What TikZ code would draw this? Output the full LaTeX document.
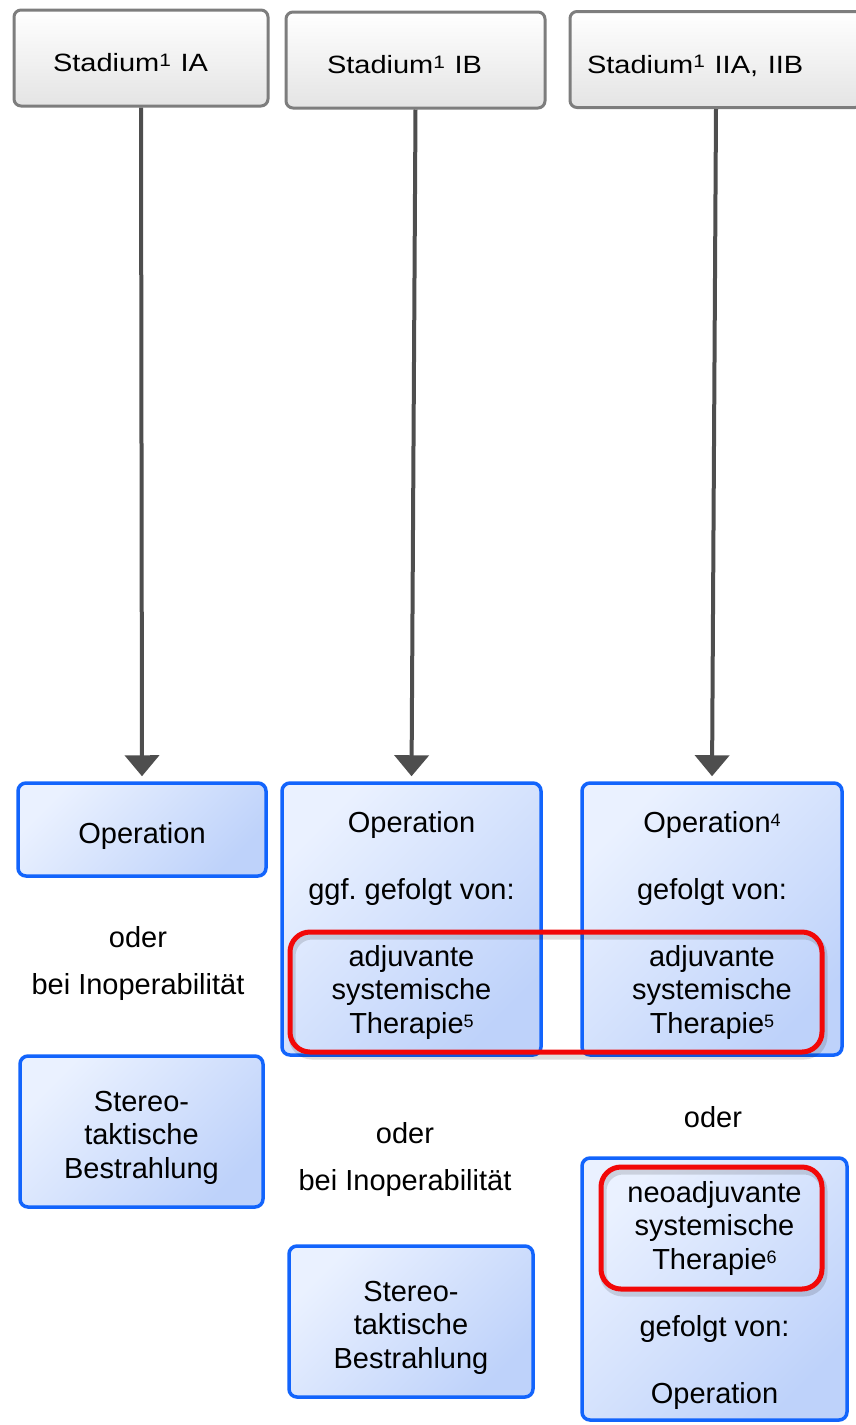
\documentclass[tikz,border=0pt]{standalone}
\usepackage{fontspec}
\setmainfont{Liberation Sans}
\usepackage{graphicx}
\usepackage{tikz}
\usetikzlibrary{arrows.meta}
\usepackage{xcolor}
\definecolor{headline}{RGB}{125,125,125}
\definecolor{headfill}{RGB}{228,228,228}
\definecolor{arrowgray}{RGB}{78,78,78}
\definecolor{boxline}{RGB}{18,100,252}
\definecolor{boxlight}{RGB}{234,241,255}
\definecolor{boxdark}{RGB}{190,210,250}
\definecolor{markred}{RGB}{242,8,8}
\newcommand{\boxfont}{\fontsize{29}{33.5}\selectfont}
\newcommand{\headfont}{\fontsize{25}{30}\selectfont}
\newcommand{\hochzahl}[1]{\raisebox{5.5pt}{\fontsize{18}{18}\selectfont #1}}
\newcommand{\kopf}[1]{\scalebox{1.16}[1]{#1}}
\frenchspacing

\begin{document}
\begin{tikzpicture}[x=1pt, y=-1pt,
  stadium/.style={draw=headline, line width=3pt, rounded corners=7pt,
    top color=white, bottom color=headfill, font=\headfont,
    align=left, minimum height=96pt, inner ysep=0pt,
    text height=27pt, text depth=0pt},
  therapy/.style={draw=boxline, line width=3.5pt, rounded corners=8pt,
    top color=boxlight, bottom color=boxdark, shading angle=45,
    inner sep=0pt},
  boxtext/.style={font=\boxfont, align=center, yshift=-6pt},
  note/.style={font=\boxfont, align=center},
  hilite/.style={draw=markred, line width=5pt, rounded corners=20pt, inner sep=0pt},
  hiliteshade/.style={draw=black, opacity=0.13, line width=7pt, rounded corners=20pt, inner sep=0pt},
  flow/.style={draw=arrowgray, line width=4pt, -{Triangle[width=34pt,length=21pt]}, shorten >=5pt}]
  \useasboundingbox (0,0) rectangle (855,1425);
  % stage headers
  \node[stadium, inner xsep=39pt, text width=176pt] (ia) at (141,58) {\kopf{Stadium\hochzahl{1} IA}};
  \node[stadium, inner xsep=41pt, text width=177pt] (ib) at (415.5,60) {\kopf{Stadium\hochzahl{1} IB}};
  \node[stadium, inner xsep=17pt, text width=258pt] (iib) at (716,59.5) {\kopf{Stadium\hochzahl{1} IIA, IIB}};
  % left column
  \node[therapy, minimum width=248pt, minimum height=93pt,
    label={[boxtext]center:Operation}] (opA) at (142,829.5) {};
  \node[note] (oderA) at (138,937) {oder};
  \node[note] (inopA) at (138,987) {bei Inoperabilität};
  \node[therapy, minimum width=243pt, minimum height=151pt,
    label={[boxtext]center:{Stereo-\\taktische\\Bestrahlung}}] (sbrtA) at (141.5,1131.5) {};
  % middle column
  \node[therapy, minimum width=259pt, minimum height=272pt,
    label={[boxtext]center:{Operation\\[33.5pt]ggf. gefolgt von:\\[33.5pt]adjuvante\\systemische\\Therapie\hochzahl{5}}}]
    (opB) at (411.5,919) {};
  \node[note] (oderB) at (405,1133) {oder};
  \node[note] (inopB) at (405,1183) {bei Inoperabilität};
  \node[therapy, minimum width=244pt, minimum height=151pt,
    label={[boxtext]center:{Stereo-\\taktische\\Bestrahlung}}] (sbrtB) at (411,1321.5) {};
  % right column
  \node[therapy, minimum width=260pt, minimum height=272pt,
    label={[boxtext]center:{Operation\hochzahl{4}\\[33.5pt]gefolgt von:\\[33.5pt]adjuvante\\systemische\\Therapie\hochzahl{5}}}]
    (opC) at (712,919) {};
  \node[note] (oderC) at (713,1117) {oder};
  \node[therapy, minimum width=265pt, minimum height=262pt,
    label={[boxtext]center:{neoadjuvante\\systemische\\Therapie\hochzahl{6}\\[33.5pt]gefolgt von:\\[33.5pt]Operation}}]
    (neoC) at (714.5,1289) {};
  % red marks
  \node[hiliteshade, minimum width=532pt, minimum height=120pt] (adjshade) at (558,996) {};
  \node[hilite, minimum width=532pt, minimum height=120pt] (adjmark) at (556,992) {};
  \node[hiliteshade, minimum width=221pt, minimum height=122pt] (neoshade) at (713.5,1232) {};
  \node[hilite, minimum width=221pt, minimum height=122pt] (neomark) at (711.5,1228) {};
  % connectors
  \draw[flow] (ia.south) -- (opA.north);
  \draw[flow] (ib.south) -- (opB.north);
  \draw[flow] (iib.south) -- (opC.north);
\end{tikzpicture}
\end{document}
